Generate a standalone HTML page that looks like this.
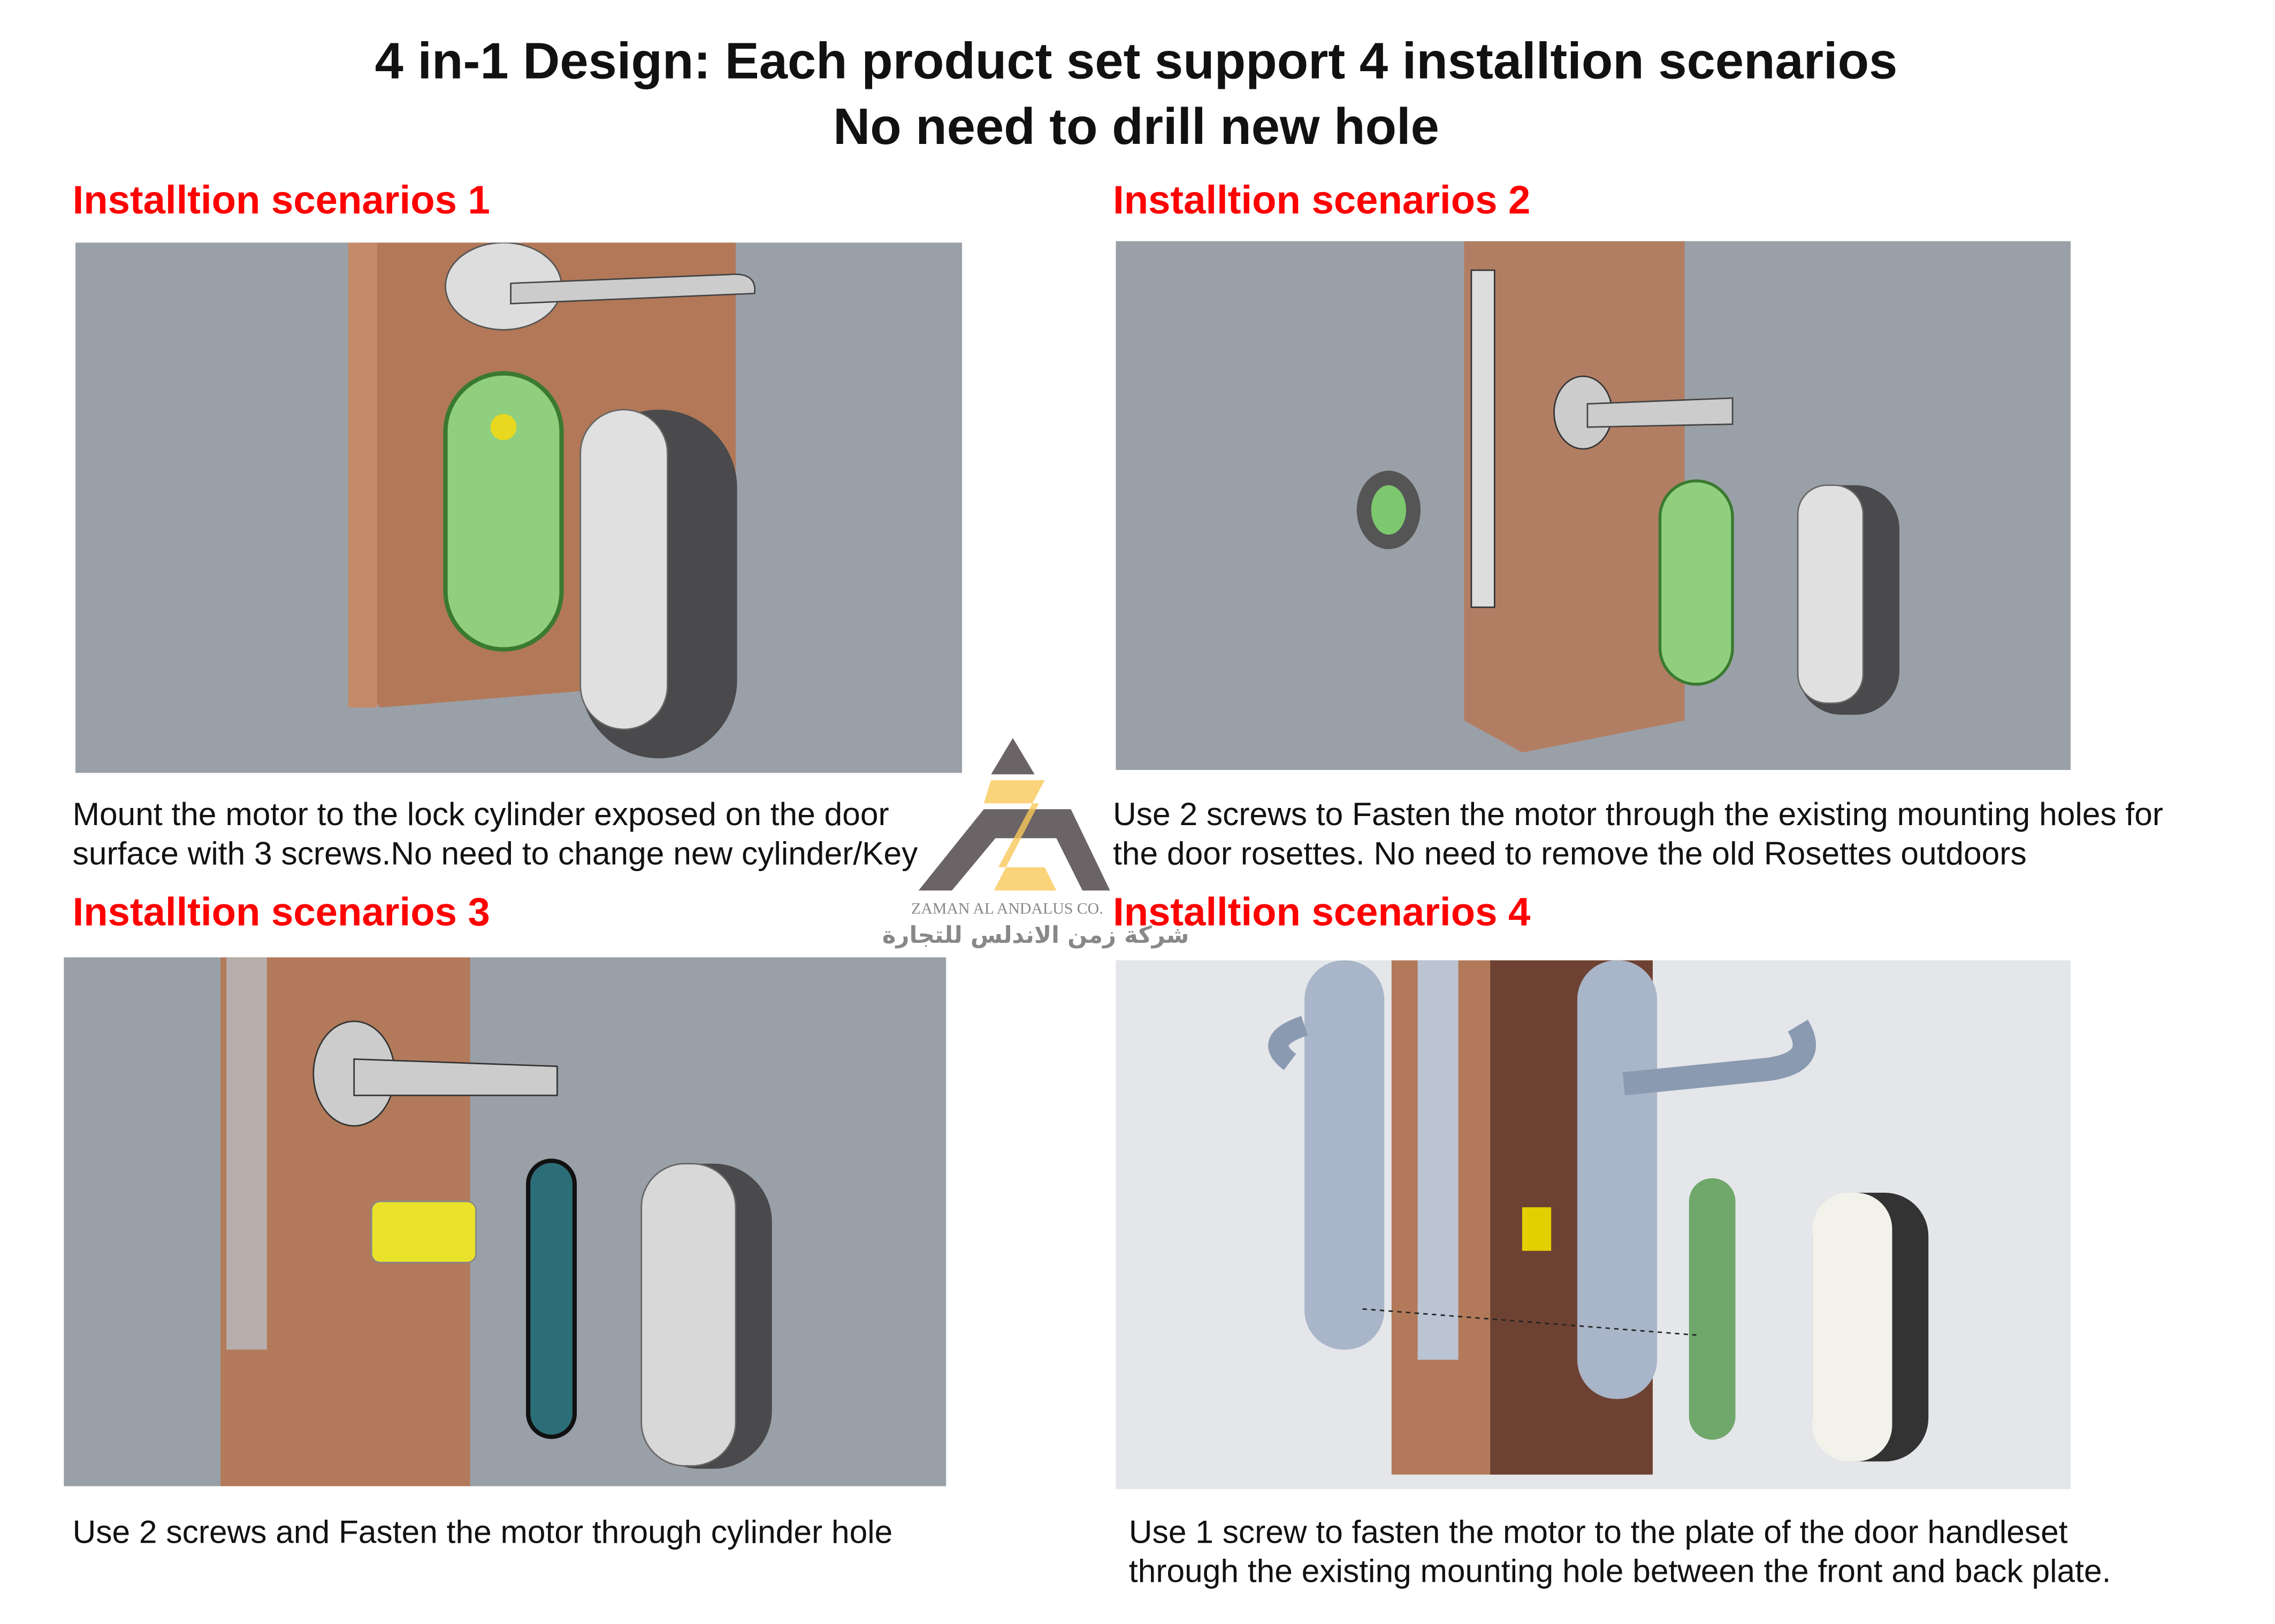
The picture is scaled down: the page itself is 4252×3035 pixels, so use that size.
<!DOCTYPE html>
<html><head><meta charset="utf-8"><style>
html,body{margin:0;padding:0;background:#fff;width:4252px;height:3035px;overflow:hidden}
#w{position:absolute;left:0;top:0;width:1568px;height:1118px;transform:scale(2.712,2.715);transform-origin:0 0;font-family:"Liberation Sans",Arial,sans-serif}
.a{position:absolute}
.t{left:0;width:1566px;text-align:center;font-weight:bold;font-size:35.3px;color:#111}
.h{font-weight:bold;font-size:27.4px;color:#f00}
.c{font-size:22.3px;color:#111;line-height:27px;white-space:nowrap}
.p{background:#9aa0a8;overflow:hidden}
</style></head><body><div id="w">
<div class="a t" style="top:23px">4 in-1 Design: Each product set support 4 installtion scenarios</div>
<div class="a t" style="top:68px">No need to drill new hole</div>

<div class="a h" style="left:50px;top:122px">Installtion scenarios 1</div>
<div class="a h" style="left:767px;top:122px">Installtion scenarios 2</div>
<div class="a h" style="left:50px;top:612px">Installtion scenarios 3</div>
<div class="a h" style="left:767px;top:612px">Installtion scenarios 4</div>

<!-- panel 1 -->
<div class="a p" style="left:52px;top:167px;width:611px;height:365px">
<svg width="611" height="365">
<polygon points="195,0 455,0 455,300 210,320 195,300" fill="#b27858"/>
<rect x="188" y="0" width="20" height="320" fill="#c48a6a"/>
<ellipse cx="295" cy="30" rx="40" ry="30" fill="#ddd" stroke="#555"/>
<path d="M300,28 L450,22 Q470,20 468,35 L300,42Z" fill="#ccc" stroke="#444"/>
<rect x="255" y="90" width="80" height="190" rx="40" fill="#8fcf7e" stroke="#3a7a30" stroke-width="3"/>
<circle cx="295" cy="127" r="9" fill="#e8d820"/>
<rect x="348" y="115" width="108" height="240" rx="54" fill="#4a4a4c"/>
<rect x="348" y="115" width="60" height="220" rx="30" fill="#e0e0e0" stroke="#666"/>
</svg></div>
<div class="a c" style="left:50px;top:547px">Mount the motor to the lock cylinder exposed on the door<br>surface with 3 screws.No need to change new cylinder/Key</div>

<!-- panel 2 -->
<div class="a p" style="left:769px;top:166px;width:658px;height:364px">
<svg width="658" height="364">
<polygon points="240,0 392,0 392,330 280,352 240,330" fill="#b27e63"/>
<rect x="245" y="20" width="16" height="232" fill="#ddd" stroke="#333"/>
<ellipse cx="322" cy="118" rx="20" ry="25" fill="#ccc" stroke="#333"/>
<path d="M325,112 L425,108 L425,126 L325,128Z" fill="#ccc" stroke="#444"/>
<ellipse cx="188" cy="185" rx="22" ry="27" fill="#555"/><ellipse cx="188" cy="185" rx="12" ry="17" fill="#7dc86e"/>
<rect x="375" y="165" width="50" height="140" rx="25" fill="#8fcf7e" stroke="#3a7a30" stroke-width="2"/>
<rect x="470" y="168" width="70" height="158" rx="30" fill="#4a4a4c"/>
<rect x="470" y="168" width="45" height="150" rx="20" fill="#e0e0e0" stroke="#666"/>
</svg></div>
<div class="a c" style="left:767px;top:547px">Use 2 screws to Fasten the motor through the existing mounting holes for<br>the door rosettes. No need to remove the old Rosettes outdoors</div>

<!-- panel 3 -->
<div class="a p" style="left:44px;top:659px;width:608px;height:364px">
<svg width="608" height="364">
<rect x="108" y="0" width="172" height="364" fill="#b27a5a"/>
<rect x="112" y="0" width="28" height="270" fill="#b8bcc0" opacity=".8"/>
<ellipse cx="200" cy="80" rx="28" ry="36" fill="#ccc" stroke="#333"/>
<path d="M200,70 L340,75 L340,95 L200,95Z" fill="#ccc" stroke="#333"/>
<rect x="212" y="168" width="72" height="42" rx="6" fill="#eae22a" stroke="#888"/>
<rect x="320" y="140" width="32" height="190" rx="16" fill="#2c6e78" stroke="#111" stroke-width="3"/>
<rect x="398" y="142" width="90" height="210" rx="40" fill="#4a4a4c"/>
<rect x="398" y="142" width="65" height="208" rx="30" fill="#d8d8d8" stroke="#666"/>
</svg></div>
<div class="a c" style="left:50px;top:1041px">Use 2 screws and Fasten the motor through cylinder hole</div>

<!-- panel 4 -->
<div class="a" style="left:769px;top:661px;width:658px;height:364px;background:#e4e6ea;overflow:hidden">
<svg width="658" height="364">
<rect x="190" y="0" width="180" height="354" fill="#b27a5a"/>
<rect x="258" y="0" width="112" height="354" fill="#6e4232"/>
<rect x="130" y="0" width="55" height="268" rx="27" fill="#a9b5c8"/>
<rect x="208" y="0" width="28" height="275" fill="#bac4d2"/>
<rect x="318" y="0" width="55" height="302" rx="27" fill="#a9b5c8"/>
<path d="M120,70 Q100,55 130,45" stroke="#8a9ab0" stroke-width="14" fill="none"/>
<path d="M350,85 L450,75 Q485,70 470,45" stroke="#8a9ab0" stroke-width="16" fill="none"/>
<rect x="280" y="170" width="20" height="30" fill="#e4d000"/>
<rect x="395" y="150" width="32" height="180" rx="16" fill="#6fa86a"/>
<rect x="480" y="160" width="80" height="185" rx="30" fill="#333"/>
<rect x="480" y="160" width="55" height="185" rx="25" fill="#f2f2ea"/>
<line x1="170" y1="240" x2="400" y2="258" stroke="#222" stroke-dasharray="3,3"/>
</svg></div>
<div class="a c" style="left:778px;top:1041px">Use 1 screw to fasten the motor to the plate of the door handleset<br>through the existing mounting hole between the front and back plate.</div>

<!-- logo -->
<svg class="a" style="left:628px;top:505px" width="140" height="110">
<polygon points="70,3 85,28 55,28" fill="#6b6466"/>
<polygon points="5,108 50,52 110,52 137,108 118,108 100,72 58,72 28,108" fill="#6b6466"/>
<polygon points="55,32 92,32 60,92 92,92 100,108 57,108 88,48 50,48" fill="#f9c859" opacity=".8"/>
</svg>
<div class="a" style="left:628px;top:620px;font-family:'Liberation Serif',serif;font-size:11px;color:#888">ZAMAN AL ANDALUS CO.</div>
<div class="a" style="left:608px;top:634px;font-family:'DejaVu Sans',sans-serif;font-size:16px;font-weight:bold;color:#888" dir="rtl">شركة زمن الاندلس للتجارة</div>
</div></body></html>
